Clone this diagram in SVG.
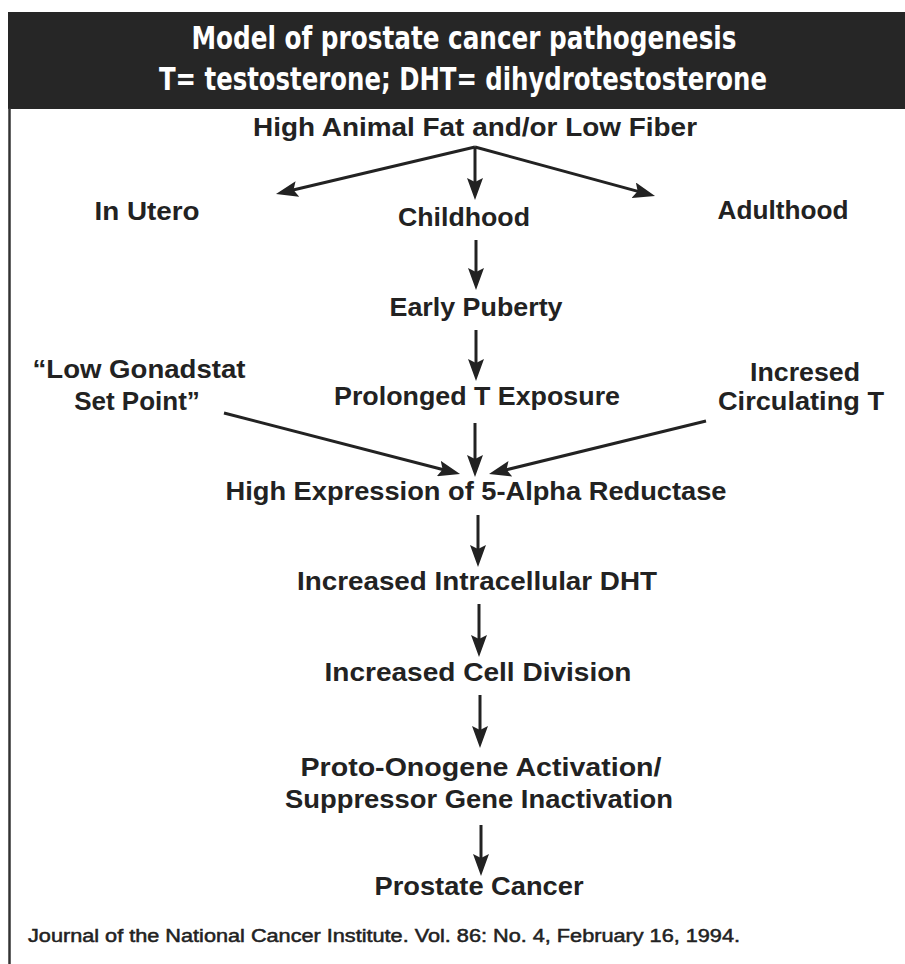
<svg xmlns="http://www.w3.org/2000/svg" width="905" height="964" viewBox="0 0 905 964">
<style>
.hdr{font-family:"DejaVu Sans Condensed","DejaVu Sans",sans-serif;font-weight:bold;font-size:32px;fill:#ffffff;text-anchor:middle}
.lbl{font-family:"Liberation Sans",Arial,sans-serif;font-weight:bold;font-size:26px;fill:#222222;text-anchor:middle}
.ftr{font-family:"Liberation Sans",Arial,sans-serif;font-size:18px;fill:#222222;stroke:#222222;stroke-width:0.5}
.arr{stroke:#222222;stroke-width:3;fill:none;marker-end:url(#ah)}
</style>
<defs>
<marker id="ah" viewBox="0 0 22 16" refX="11" refY="8" markerWidth="22" markerHeight="16" markerUnits="userSpaceOnUse" orient="auto">
<path d="M0,0 L22,8 L0,16 L4,8 z" fill="#222222"/>
</marker>
</defs>
<rect width="905" height="964" fill="#ffffff"/>
<g id="header">
<rect x="8" y="12" width="897" height="97" fill="#262626"/>
<text class="hdr" x="464" y="49" textLength="545" lengthAdjust="spacingAndGlyphs">Model of prostate cancer pathogenesis</text>
<text class="hdr" x="463" y="90" textLength="608" lengthAdjust="spacingAndGlyphs">T= testosterone; DHT= dihydrotestosterone</text>
</g>
<line x1="9.5" y1="108" x2="9.5" y2="964" stroke="#333333" stroke-width="2.5"/>
<g id="connectors">
<line class="arr" x1="475" y1="147" x2="286.7" y2="191.5"/>
<line class="arr" x1="475" y1="147" x2="475" y2="189"/>
<line class="arr" x1="475" y1="147" x2="644.4" y2="193.1"/>
<line class="arr" x1="476" y1="240" x2="476" y2="279"/>
<line class="arr" x1="476" y1="330" x2="476" y2="370"/>
<line class="arr" x1="224" y1="413" x2="449.4" y2="471.3"/>
<line class="arr" x1="475" y1="423" x2="475" y2="466"/>
<line class="arr" x1="706" y1="421" x2="499.7" y2="471.4"/>
<line class="arr" x1="478" y1="515" x2="478" y2="556"/>
<line class="arr" x1="479" y1="604" x2="479" y2="646"/>
<line class="arr" x1="480" y1="695" x2="480" y2="737"/>
<line class="arr" x1="481" y1="825" x2="481" y2="865"/>
</g>
<g id="n-diet"><text class="lbl" x="475" y="136" textLength="444" lengthAdjust="spacingAndGlyphs">High Animal Fat and/or Low Fiber</text></g>
<g id="n-utero"><text class="lbl" x="147" y="220" textLength="105" lengthAdjust="spacingAndGlyphs">In Utero</text></g>
<g id="n-childhood"><text class="lbl" x="464" y="226" textLength="132" lengthAdjust="spacingAndGlyphs">Childhood</text></g>
<g id="n-adulthood"><text class="lbl" x="783" y="219" textLength="131" lengthAdjust="spacingAndGlyphs">Adulthood</text></g>
<g id="n-puberty"><text class="lbl" x="476" y="316" textLength="173" lengthAdjust="spacingAndGlyphs">Early Puberty</text></g>
<g id="n-prolonged"><text class="lbl" x="477" y="405" textLength="286" lengthAdjust="spacingAndGlyphs">Prolonged T Exposure</text></g>
<g id="n-gonadstat">
<text class="lbl" x="139" y="378" textLength="213" lengthAdjust="spacingAndGlyphs">“Low Gonadstat</text>
<text class="lbl" x="137" y="410">Set Point”</text>
</g>
<g id="n-circulating">
<text class="lbl" x="805" y="381" textLength="110" lengthAdjust="spacingAndGlyphs">Incresed</text>
<text class="lbl" x="801" y="410" textLength="166" lengthAdjust="spacingAndGlyphs">Circulating T</text>
</g>
<g id="n-reductase"><text class="lbl" x="476" y="500" textLength="501" lengthAdjust="spacingAndGlyphs">High Expression of 5-Alpha Reductase</text></g>
<g id="n-dht"><text class="lbl" x="477" y="590" textLength="360" lengthAdjust="spacingAndGlyphs">Increased Intracellular DHT</text></g>
<g id="n-division"><text class="lbl" x="478" y="681" textLength="307" lengthAdjust="spacingAndGlyphs">Increased Cell Division</text></g>
<g id="n-oncogene">
<text class="lbl" x="481" y="776" textLength="361" lengthAdjust="spacingAndGlyphs">Proto-Onogene Activation/</text>
<text class="lbl" x="479" y="808" textLength="388" lengthAdjust="spacingAndGlyphs">Suppressor Gene Inactivation</text>
</g>
<g id="n-cancer"><text class="lbl" x="479" y="895" textLength="209" lengthAdjust="spacingAndGlyphs">Prostate Cancer</text></g>
<g id="footer"><text class="ftr" x="28" y="942" textLength="712" lengthAdjust="spacingAndGlyphs">Journal of the National Cancer Institute. Vol. 86: No. 4, February 16, 1994.</text></g>
</svg>
